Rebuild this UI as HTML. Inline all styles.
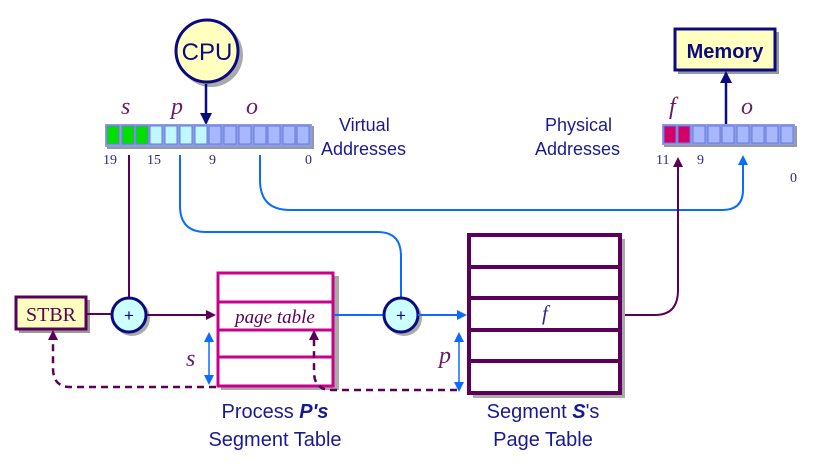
<!DOCTYPE html>
<html><head><meta charset="utf-8"><style>
html,body{margin:0;padding:0;background:#fff;}
svg{display:block;}
.sans{font-family:"Liberation Sans",sans-serif;}
.serif{font-family:"Liberation Serif",serif;}
</style></head><body>
<svg width="814" height="466" viewBox="0 0 814 466" xmlns="http://www.w3.org/2000/svg">
<defs>
<marker id="ab" markerWidth="10" markerHeight="10" refX="8" refY="5" orient="auto" markerUnits="userSpaceOnUse"><path d="M0,0 L10,5 L0,10 z" fill="#0a6cff"/></marker>
<marker id="ap" markerWidth="10" markerHeight="10" refX="8" refY="5" orient="auto" markerUnits="userSpaceOnUse"><path d="M0,0 L10,5 L0,10 z" fill="#5a0058"/></marker>
<marker id="an" markerWidth="12" markerHeight="12" refX="10" refY="6" orient="auto" markerUnits="userSpaceOnUse"><path d="M0,0 L12,6 L0,12 z" fill="#0b0b80"/></marker>
<marker id="abs" markerWidth="10" markerHeight="10" refX="2" refY="5" orient="auto" markerUnits="userSpaceOnUse"><path d="M10,0 L0,5 L10,10 z" fill="#0a6cff"/></marker>
</defs>

<circle cx="211" cy="55" r="32" fill="#aaa"/>
<circle cx="207" cy="51" r="31" fill="#ffffc0" stroke="#0b0b80" stroke-width="3"/>
<text x="207" y="60" text-anchor="middle" class="sans" font-size="24" fill="#0b0b80">CPU</text>
<line x1="206" y1="84" x2="206" y2="123" stroke="#0b0b80" stroke-width="2.5" marker-end="url(#an)"/>

<rect x="107" y="126" width="207" height="23" fill="#999"/>
<rect x="105" y="124" width="207" height="23" fill="#8b9ce8"/>
<g stroke="#6a7bd8" stroke-width="1">
<rect x="107" y="126" width="12" height="18" fill="#00e000"/>
<rect x="122" y="126" width="12" height="18" fill="#00e000"/>
<rect x="136" y="126" width="12" height="18" fill="#00e000"/>
<rect x="150" y="126" width="12" height="18" fill="#c0f8ff"/>
<rect x="165" y="126" width="12" height="18" fill="#c0f8ff"/>
<rect x="180" y="126" width="12" height="18" fill="#c0f8ff"/>
<rect x="195" y="126" width="12" height="18" fill="#c0f8ff"/>
<rect x="209" y="126" width="12" height="18" fill="#a8b8ff"/>
<rect x="224" y="126" width="12" height="18" fill="#a8b8ff"/>
<rect x="239" y="126" width="12" height="18" fill="#a8b8ff"/>
<rect x="254" y="126" width="12" height="18" fill="#a8b8ff"/>
<rect x="268" y="126" width="12" height="18" fill="#a8b8ff"/>
<rect x="283" y="126" width="12" height="18" fill="#a8b8ff"/>
<rect x="297" y="126" width="12" height="18" fill="#a8b8ff"/>
</g>
<g class="serif" font-style="italic" font-size="24" fill="#6a1a60">
<text x="121" y="114">s</text><text x="171" y="114">p</text><text x="246" y="114">o</text>
</g>
<g class="serif" font-size="14" fill="#2a2a90">
<text x="103" y="164">19</text><text x="147" y="164">15</text><text x="209" y="164">9</text><text x="305" y="164">0</text>
</g>
<text x="339" y="131" class="sans" font-size="18" fill="#1a1a90">Virtual</text>
<text x="321" y="155" class="sans" font-size="18" fill="#1a1a90">Addresses</text>

<text x="545" y="131" class="sans" font-size="18" fill="#1a1a90">Physical</text>
<text x="535" y="155" class="sans" font-size="18" fill="#1a1a90">Addresses</text>
<rect x="678" y="32" width="101" height="42" fill="#999"/>
<rect x="675" y="29" width="100" height="41" fill="#ffffc0" stroke="#0b0b80" stroke-width="3"/>
<text x="725" y="58" text-anchor="middle" class="sans" font-weight="bold" font-size="20" fill="#0b0b80">Memory</text>
<line x1="726" y1="124" x2="726" y2="73" stroke="#0b0b80" stroke-width="2.5" marker-end="url(#an)"/>
<rect x="664" y="126" width="133" height="21" fill="#999"/>
<rect x="662" y="124" width="133" height="21" fill="#8b9ce8"/>
<g stroke="#6a7bd8">
<rect x="664" y="126" width="12" height="17" fill="#d4006a"/>
<rect x="678" y="126" width="12" height="17" fill="#d4006a"/>
<rect x="693" y="126" width="12" height="17" fill="#a8b8ff"/>
<rect x="708" y="126" width="12" height="17" fill="#a8b8ff"/>
<rect x="722" y="126" width="12" height="17" fill="#a8b8ff"/>
<rect x="737" y="126" width="12" height="17" fill="#a8b8ff"/>
<rect x="752" y="126" width="12" height="17" fill="#a8b8ff"/>
<rect x="766" y="126" width="12" height="17" fill="#a8b8ff"/>
<rect x="781" y="126" width="12" height="17" fill="#a8b8ff"/>
</g>
<text x="669" y="114" class="serif" font-style="italic" font-size="24" fill="#6a1a60">f</text>
<text x="741" y="114" class="serif" font-style="italic" font-size="24" fill="#6a1a60">o</text>
<g class="serif" font-size="14" fill="#2a2a90">
<text x="656" y="164">11</text><text x="697" y="164">9</text><text x="790" y="182">0</text>
</g>

<line x1="129" y1="155" x2="129" y2="297" stroke="#5a0058" stroke-width="2"/>
<path d="M180,155 V206 Q180,232 206,232 H378 Q401,232 401,256 V297" fill="none" stroke="#0a6cff" stroke-width="2"/>
<path d="M260,155 V180 Q260,210 290,210 H722 Q743,210 743,190 V157" fill="none" stroke="#0a6cff" stroke-width="2" marker-end="url(#ab)"/>
<path d="M623,315 H655 Q678,315 678,290 V159" fill="none" stroke="#5a0058" stroke-width="2" marker-end="url(#ap)"/>

<rect x="19" y="300" width="71" height="33" fill="#999"/>
<rect x="16" y="297" width="70" height="32" fill="#ffffc0" stroke="#5a0058" stroke-width="3"/>
<text x="51" y="321" text-anchor="middle" class="serif" font-size="20" fill="#5a0058">STBR</text>
<line x1="87" y1="314" x2="111" y2="314" stroke="#5a0058" stroke-width="2"/>
<circle cx="132" cy="318" r="18" fill="#aaa"/>
<circle cx="129" cy="315" r="17" fill="#ccffff" stroke="#0b0b80" stroke-width="3"/>
<text x="129" y="321" text-anchor="middle" class="sans" font-size="17" fill="#0b0b80">+</text>
<line x1="147" y1="315" x2="214" y2="315" stroke="#5a0058" stroke-width="2" marker-end="url(#ap)"/>

<rect x="221" y="276" width="118" height="114" fill="#aaa"/>
<rect x="218" y="273" width="115" height="113" fill="#fff" stroke="#c8008c" stroke-width="3"/>
<g stroke="#c8008c" stroke-width="3"><line x1="218" y1="302" x2="333" y2="302"/><line x1="218" y1="330" x2="333" y2="330"/><line x1="218" y1="357" x2="333" y2="357"/></g>
<text x="275" y="323" text-anchor="middle" class="serif" font-style="italic" font-size="19" fill="#5a0058">page table</text>
<line x1="209" y1="334" x2="209" y2="383" stroke="#0a6cff" stroke-width="1.5" marker-start="url(#abs)" marker-end="url(#ab)"/>
<text x="186" y="366" class="serif" font-style="italic" font-size="24" fill="#6a1a60">s</text>

<line x1="334" y1="315" x2="384" y2="315" stroke="#0a6cff" stroke-width="2"/>
<circle cx="404" cy="318" r="18" fill="#aaa"/>
<circle cx="401" cy="315" r="17" fill="#ccffff" stroke="#0b0b80" stroke-width="3"/>
<text x="401" y="321" text-anchor="middle" class="sans" font-size="17" fill="#0b0b80">+</text>
<line x1="418" y1="315" x2="465" y2="315" stroke="#0a6cff" stroke-width="2" marker-end="url(#ab)"/>

<rect x="473" y="239" width="152" height="159" fill="#aaa"/>
<rect x="469" y="235" width="151" height="158" fill="#fff" stroke="#5a0058" stroke-width="4"/>
<g stroke="#5a0058" stroke-width="4"><line x1="469" y1="267" x2="620" y2="267"/><line x1="469" y1="298" x2="620" y2="298"/><line x1="469" y1="330" x2="620" y2="330"/><line x1="469" y1="361" x2="620" y2="361"/></g>
<text x="542" y="320" class="serif" font-style="italic" font-size="21" fill="#2a2a90">f</text>
<line x1="459" y1="334" x2="459" y2="390" stroke="#0a6cff" stroke-width="1.5" marker-start="url(#abs)" marker-end="url(#ab)"/>
<text x="439" y="363" class="serif" font-style="italic" font-size="24" fill="#6a1a60">p</text>

<path d="M216,387 H70 Q53,387 53,368 V332" fill="none" stroke="#5a0058" stroke-width="2.5" stroke-dasharray="7,5" marker-end="url(#ap)"/>
<path d="M457,390 H332 Q314,390 314,372 V332" fill="none" stroke="#5a0058" stroke-width="2.5" stroke-dasharray="7,5" marker-end="url(#ap)"/>

<g class="sans" font-size="20" fill="#1a1a90" text-anchor="middle">
<text x="275" y="418">Process <tspan font-weight="bold" font-style="italic">P's</tspan></text>
<text x="275" y="446">Segment Table</text>
<text x="543" y="418">Segment <tspan font-weight="bold" font-style="italic">S</tspan>'s</text>
<text x="543" y="446">Page Table</text>
</g>
</svg>
</body></html>
